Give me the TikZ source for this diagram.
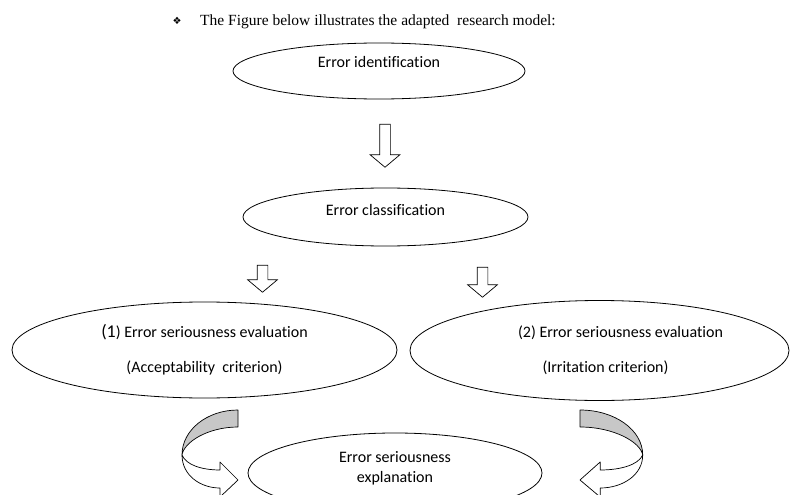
\documentclass[tikz,border=0pt]{standalone}
\usepackage{fontspec}
\setmainfont{Liberation Serif}
\newfontfamily\stagefont[Ligatures=NoCommon]{Carlito}
\newfontfamily\bulletfont{DejaVu Sans}
\usetikzlibrary{positioning, shapes.geometric, shapes.arrows}

\tikzset{
  stage/.style={ellipse, draw, line width=0.8pt, inner sep=0pt, align=center,
    font=\stagefont\fontsize{16}{35}\selectfont},
  down arrow/.style={single arrow, draw, line width=0.7pt, rotate=-90,
    inner xsep=0pt, inner ysep=5pt, single arrow head extend=9.5pt,
    single arrow tip angle=100},
  back band/.style={draw, line width=0.7pt, fill=black!22, line join=round},
  front band/.style={draw, line width=0.7pt, fill=white, line join=round}
}

\begin{document}
\begin{tikzpicture}[x=1pt, y=-1pt, on grid]
  \useasboundingbox (0,0) rectangle (793,495);
  % heading
  \node[font=\bulletfont\fontsize{10}{10}\selectfont, inner sep=0pt] (bullet) at (177,21) {❖};
  \node[anchor=base west, inner sep=0pt, font=\fontsize{15.5}{18}\selectfont] (heading) at (200,26)
    {The Figure below illustrates the adapted\ \ research model:};

  % stages
  \node[stage, minimum width=292pt, minimum height=56pt, text height=11pt, text depth=17pt] (ident) at (379,71) {Error identification};
  \node[down arrow, minimum height=43pt] (arr1) [below right=72.5pt and 6pt of ident] {};
  \node[stage, minimum width=285pt, minimum height=58pt, text height=11pt, text depth=15pt] (classif) at (385.5,217) {Error classification};
  \node[down arrow, minimum height=27pt] (arrL) [below left=59.5pt and 123pt of classif] {};
  \node[down arrow, minimum height=30pt] (arrR) [below right=63pt and 97pt of classif] {};
  \node[stage, minimum width=385pt, minimum height=96pt] (evalA) at (204.5,350)
    {{\fontsize{18}{35}\selectfont(1}) Error seriousness evaluation\\(Acceptability\ \ criterion)};
  \node[stage, minimum width=379pt, minimum height=100pt] (evalB) at (599.5,350.5)
    {\hspace*{42pt}(2) Error seriousness evaluation\\\hspace*{12pt}(Irritation criterion)};
  \node[stage, minimum width=294pt, minimum height=80pt, font=\stagefont\fontsize{16}{20}\selectfont,
    text height=32pt, text depth=14pt] (expl) at (395,473) {Error seriousness\\explanation};

  % curved arrows into the explanation
  \begin{scope}[shift={(238,410)}]
    \filldraw[back band] (0,0) .. controls (-31,0) and (-56,20) .. (-56,45)
      .. controls (-54,32) and (-30,17) .. (0,17) -- cycle;
    \filldraw[front band] (-56,45) .. controls (-56,65) and (-38,78) .. (-18,78)
      -- (-18,87) -- (0,70) -- (-18,52) -- (-18,60)
      .. controls (-36,60) and (-52,55) .. (-56,45) -- cycle;
  \end{scope}
  \begin{scope}[shift={(580,410)}, xscale=-1.12]
    \filldraw[back band] (0,0) .. controls (-31,0) and (-56,20) .. (-56,45)
      .. controls (-54,32) and (-30,17) .. (0,17) -- cycle;
    \filldraw[front band] (-56,45) .. controls (-56,65) and (-38,78) .. (-18,78)
      -- (-18,87) -- (0,70) -- (-18,52) -- (-18,60)
      .. controls (-36,60) and (-52,55) .. (-56,45) -- cycle;
  \end{scope}
\end{tikzpicture}
\end{document}
